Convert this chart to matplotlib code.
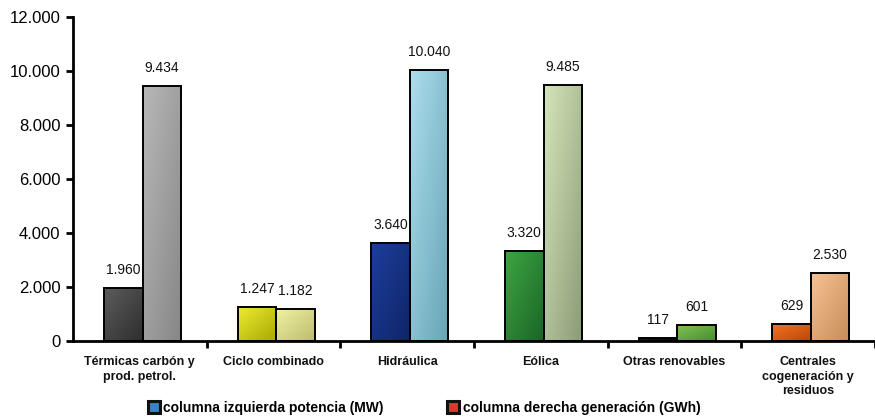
import numpy as np
import matplotlib
matplotlib.use("Agg")
import matplotlib.pyplot as plt
from matplotlib.colors import to_rgb
from matplotlib.lines import Line2D

plt.rcParams['font.family'] = ['Liberation Sans', 'DejaVu Sans']

# ── Data ──────────────────────────────────────────────────────────────────────
categorias = ["Térmicas carbón y\nprod. petrol.", "Ciclo combinado", "Hidráulica",
              "Eólica", "Otras renovables", "Centrales\ncogeneración y\nresiduos"]
potencia_mw = [1960, 1247, 3640, 3320, 117, 629]
generacion_gwh = [9434, 1182, 10040, 9485, 601, 2530]
yticks = [0, 2000, 4000, 6000, 8000, 10000, 12000]

# (light top-left, dark bottom-right) per bar
colores_izq = [("#5c5c5c", "#2e2e2e"), ("#ecec34", "#a8a800"), ("#1c3e9e", "#0f2566"),
               ("#3ca642", "#1c6426"), ("#262626", "#000000"), ("#f27424", "#bc4606")]
colores_der = [("#b8b8b8", "#868686"), ("#f0f2a4", "#bcbc6c"), ("#acdeee", "#66a4b4"),
               ("#d6e6ba", "#8a9a76"), ("#84c454", "#468c2e"), ("#f9c294", "#c48c58")]


def fmt(v):
    return f"{v:,}".replace(",", ".")


def gradient_fill(ax, patch, c1, c2):
    """Paint a diagonal gradient inside a bar patch."""
    x0, y0 = patch.get_x(), patch.get_y()
    w, h = patch.get_width(), patch.get_height()
    n = 64
    xx, yy = np.meshgrid(np.linspace(0, 1, n), np.linspace(0, 1, n))
    t = (xx + yy) / 2  # row 0 is the top when origin='upper'
    a, b = np.array(to_rgb(c1)), np.array(to_rgb(c2))
    img = a[None, None, :] * (1 - t[..., None]) + b[None, None, :] * t[..., None]
    im = ax.imshow(img, extent=(x0, x0 + w, y0, y0 + h), aspect='auto',
                   origin='upper', zorder=patch.get_zorder() - 0.1, interpolation='bilinear')
    im.set_clip_path(patch)


# ── Plot ──────────────────────────────────────────────────────────────────────
fig = plt.figure(figsize=(8.75, 4.17), dpi=100)
ax = fig.add_axes([73 / 875, 1 - 341 / 417, 1 - 73 / 875, (341 - 17) / 417])

x = np.arange(len(categorias))
w = 0.288
bars_l = ax.bar(x - w / 2 + 0.02, potencia_mw, w, facecolor='none', edgecolor='black',
                linewidth=1.4, zorder=3)
bars_r = ax.bar(x + w / 2 + 0.02, generacion_gwh, w, facecolor='none', edgecolor='black',
                linewidth=1.4, zorder=3)

for bars, cols, vals in [(bars_l, colores_izq, potencia_mw),
                         (bars_r, colores_der, generacion_gwh)]:
    for p, (c1, c2), v in zip(bars, cols, vals):
        gradient_fill(ax, p, c1, c2)
        ax.annotate(fmt(v), (p.get_x() + p.get_width() / 2, v), xytext=(0, 8),
                    textcoords='offset points', ha='center', va='bottom',
                    fontsize=10, color='#111111')

ax.set_xlim(-0.5, len(categorias) - 0.5)
ax.set_ylim(0, 12000)
ax.set_yticks(yticks)
ax.set_yticklabels([fmt(v) for v in yticks], fontsize=12)

ax.set_xticks(x)
ax.set_xticklabels(categorias, fontsize=9, fontweight='bold', color='#111111',
                   linespacing=1.25, va='top')
ax.set_xticks(np.arange(0.5, len(categorias), 1.0), minor=True)
ax.tick_params(axis='x', which='major', length=0, pad=11)
ax.tick_params(axis='x', which='minor', length=5, width=2, direction='out')
ax.tick_params(axis='y', length=5, width=2, direction='out', pad=4)

for s in ['top', 'right']:
    ax.spines[s].set_visible(False)
for s in ['left', 'bottom']:
    ax.spines[s].set_linewidth(2)
ax.spines['bottom'].set_zorder(4)

handles = [
    Line2D([], [], linestyle='none', marker='s', markersize=8, markerfacecolor='#3a7fd0',
           markeredgecolor='#111111', markeredgewidth=2.2),
    Line2D([], [], linestyle='none', marker='s', markersize=8, markerfacecolor='#d83a30',
           markeredgecolor='#111111', markeredgewidth=2.2),
]
fig.legend(handles, ["columna izquierda potencia (MW)", "columna derecha generación (GWh)"],
           loc='lower center', bbox_to_anchor=(0.485, -0.025), ncol=2, frameon=False,
           handlelength=0.8, handletextpad=0.3, columnspacing=4.6,
           prop={'size': 10, 'weight': 'bold'})

fig.savefig('out.png', dpi=100)
